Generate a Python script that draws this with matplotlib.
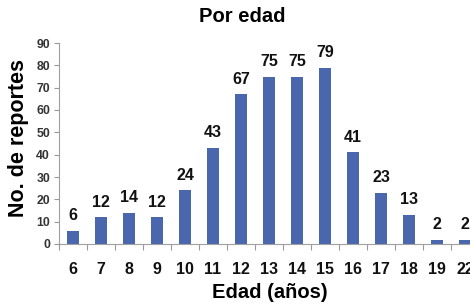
import matplotlib
matplotlib.use("Agg")
import matplotlib.pyplot as plt
import numpy as np

categories = ["6", "7", "8", "9", "10", "11", "12", "13", "14", "15", "16", "17", "18", "19", "22"]
values = [6, 12, 14, 12, 24, 43, 67, 75, 75, 79, 41, 23, 13, 2, 2]

plt.rcParams['font.family'] = ['Liberation Sans', 'DejaVu Sans']

W, H = 470, 304
fig = plt.figure(figsize=(W / 100, H / 100), dpi=100)
ax = fig.add_axes([59 / W, (H - 244) / H, 420 / W, 201 / H])

x = np.arange(len(categories))
ax.bar(x, values, width=0.43, color='#4A66AC', zorder=2)
for xi, v in zip(x, values):
    ax.annotate(str(v), (xi, v), xytext=(0, 5.5), textcoords='offset points',
                ha='center', va='bottom', fontsize=11.5, fontweight='bold', color='#111111')

ax.set_xlim(-0.5, len(categories) - 0.5)
ax.set_ylim(0, 90)
ax.set_yticks(range(0, 91, 10))
ax.tick_params(axis='y', labelsize=8.8, colors='#999999', length=3.5, width=0.8, pad=3)
for lab in ax.get_yticklabels():
    lab.set_fontweight('bold')
    lab.set_color('#333333')

ax.set_xticks(x)
ax.set_xticklabels(categories, fontsize=11.5, fontweight='bold', color='#111111')
ax.set_xticks(np.arange(-0.5, len(categories), 1), minor=True)
ax.tick_params(axis='x', which='major', length=0, pad=13)
ax.tick_params(axis='x', which='minor', length=4, width=0.8, colors='#999999')

for s in ['top', 'right']:
    ax.spines[s].set_visible(False)
for s in ['left', 'bottom']:
    ax.spines[s].set_color('#A0A0A0')
    ax.spines[s].set_linewidth(0.8)

ax.set_ylabel('No. de reportes', fontsize=15.5, fontweight='bold')
ax.yaxis.label.set_va('center')
ax.yaxis.set_label_coords((19 - 59) / 420, (244 - 138) / 201)
ax.set_xlabel('Edad (años)', fontsize=14.5, fontweight='bold')
ax.xaxis.label.set_va('center')
ax.xaxis.set_label_coords((270 - 59) / 420, (244 - 292) / 201)
fig.text(242 / W, 1 - 17 / H, 'Por edad', ha='center', va='center', fontsize=14.5, fontweight='bold')

fig.savefig('out.png', dpi=100)
